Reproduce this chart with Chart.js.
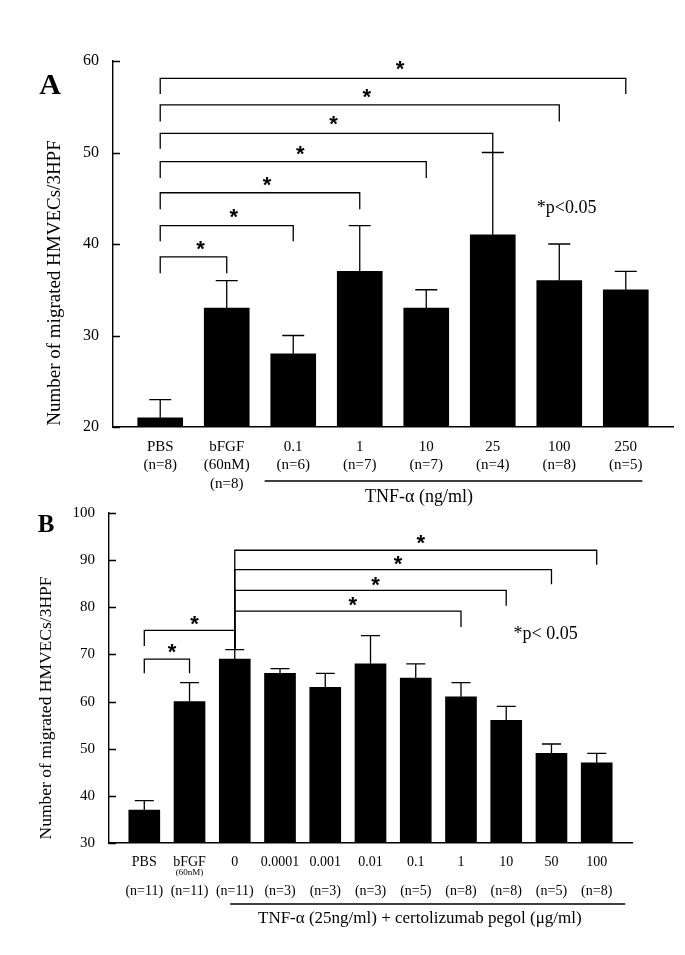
<!DOCTYPE html>
<html>
<head>
<meta charset="utf-8">
<script src="https://cdn.jsdelivr.net/npm/chart.js@4.4.1/dist/chart.umd.min.js"></script>
<style>
    body { margin: 0; background: #fff; }
    #wrap { position: relative; width: 685px; height: 955px; background: #fff; }
    canvas { position: absolute; left: 0; }
    #chartA { top: 0; }
    #chartB { top: 490px; }
</style>
</head>
<body>
<div id="wrap">
    <canvas id="chartA" width="685" height="515"></canvas>
    <canvas id="chartB" width="685" height="465"></canvas>
</div>
<script>
// Panel A: TNF-alpha dose
const catsA = ['PBS', 'bFGF', '0.1', '1', '10', '25', '100', '250'];
const notesA = ['', '(60nM)', '', '', '', '', '', ''];
const nA = [8, 8, 6, 7, 7, 4, 8, 5];
const meanA = [21, 33, 28, 37, 33, 41, 36, 35];
const errTopA = [23, 36, 30, 42, 35, 50, 40, 37];
const ticksA = [20, 30, 40, 50, 60];
// [from, to, bracket level, left leg end, right leg end, star level]
const bracketsA = [
    [0, 1, 38.6, 36.8, 36.8, 40.1],
    [0, 2, 42.0, 40.3, 40.3, 43.6],
    [0, 3, 45.6, 43.8, 43.8, 47.1],
    [0, 4, 49.0, 47.2, 47.2, 50.4],
    [0, 5, 52.1, 50.4, 50.0, 53.7],
    [0, 6, 55.2, 53.4, 53.4, 56.7],
    [0, 7, 58.1, 56.4, 56.4, 59.7]
];

// Panel B: TNF-alpha 25ng/ml + certolizumab pegol
const catsB = ['PBS', 'bFGF', '0', '0.0001', '0.001', '0.01', '0.1', '1', '10', '50', '100'];
const notesB = ['', '(60nM)', '', '', '', '', '', '', '', '', ''];
const nB = [11, 11, 11, 3, 3, 3, 5, 8, 8, 5, 8];
const meanB = [37, 60, 69, 66, 63, 68, 65, 61, 56, 49, 47];
const errTopB = [39, 64, 71, 67, 66, 74, 68, 64, 59, 51, 49];
const ticksB = [30, 40, 50, 60, 70, 80, 90, 100];
const bracketsB = [
    [0, 1, 69.0, 66.0, 66.0, 71.7],
    [0, 2, 75.1, 71.8, 71.2, 77.6],
    [2, 7, 79.2, 71.2, 75.8, 81.6],
    [2, 8, 83.6, 71.2, 80.3, 86.0],
    [2, 9, 88.0, 71.2, 84.9, 90.4],
    [2, 10, 92.1, 71.2, 89.0, 94.8]
];

const SERIF = '"Liberation Serif", "Times New Roman", serif';

function figurePlugin(cfg) {
    return {
        id: 'figure',
        afterDatasetsDraw(chart) {
            const { ctx, chartArea: area, scales: { x, y } } = chart;
            ctx.save();
            ctx.strokeStyle = '#000';
            ctx.fillStyle = '#000';
            ctx.lineWidth = 1.3;

            // inward tick marks on the y axis
            ctx.beginPath();
            y.ticks.forEach(t => {
                const py = Math.round(y.getPixelForValue(t.value)) + 0.5;
                ctx.moveTo(area.left, py);
                ctx.lineTo(area.left + 7, py);
            });
            ctx.stroke();

            // error bars (upper only)
            cfg.errTop.forEach((v, i) => {
                const px = x.getPixelForValue(i);
                const top = y.getPixelForValue(v);
                ctx.beginPath();
                ctx.moveTo(px, y.getPixelForValue(cfg.mean[i]));
                ctx.lineTo(px, top);
                ctx.moveTo(px - cfg.cap / 2, top);
                ctx.lineTo(px + cfg.cap / 2, top);
                ctx.stroke();
            });

            // significance brackets
            ctx.font = 'bold 22px "Liberation Sans", Arial, sans-serif';
            ctx.textAlign = 'center';
            ctx.textBaseline = 'alphabetic';
            cfg.brackets.forEach(([a, b, lvl, la, lb, star]) => {
                const xa = x.getPixelForValue(a);
                const xb = x.getPixelForValue(b);
                const yl = y.getPixelForValue(lvl);
                ctx.beginPath();
                ctx.moveTo(xa, y.getPixelForValue(la));
                ctx.lineTo(xa, yl);
                ctx.lineTo(xb, yl);
                ctx.lineTo(xb, y.getPixelForValue(lb));
                ctx.stroke();
                ctx.fillText('*', (xa + xb) / 2 + cfg.starShift, y.getPixelForValue(star) + 12.5);
            });

            // p-value note
            ctx.font = '18px ' + SERIF;
            ctx.textBaseline = 'middle';
            ctx.fillText(cfg.pText, x.getPixelForValue(cfg.pAt[0]), y.getPixelForValue(cfg.pAt[1]));
            ctx.restore();
        },
        afterDraw(chart) {
            const { ctx, chartArea: area, scales: { x } } = chart;
            ctx.save();
            ctx.fillStyle = '#000';
            ctx.strokeStyle = '#000';
            ctx.textAlign = 'center';
            ctx.textBaseline = 'middle';

            // category labels
            cfg.cats.forEach((c, i) => {
                const px = x.getPixelForValue(i);
                const n = '(n=' + cfg.n[i] + ')';
                ctx.font = cfg.labelSize + 'px ' + SERIF;
                if (cfg.rows.stack) {
                    const lines = [c, cfg.notes[i], n].filter(t => t);
                    lines.forEach((t, k) => ctx.fillText(t, px, area.bottom + cfg.rows.name + k * cfg.rows.step));
                } else {
                    ctx.fillText(c, px, area.bottom + cfg.rows.name);
                    ctx.fillText(n, px, area.bottom + cfg.rows.n);
                    if (cfg.notes[i]) {
                        ctx.font = cfg.rows.noteSize + 'px ' + SERIF;
                        ctx.fillText(cfg.notes[i], px, area.bottom + cfg.rows.note);
                    }
                }
            });

            // treatment group line + caption
            const g = cfg.group;
            ctx.lineWidth = 1.3;
            ctx.beginPath();
            ctx.moveTo(x.getPixelForValue(g.from), area.bottom + g.lineY);
            ctx.lineTo(x.getPixelForValue(g.to), area.bottom + g.lineY);
            ctx.stroke();
            ctx.font = g.size + 'px ' + SERIF;
            ctx.fillText(g.text, x.getPixelForValue(g.at), area.bottom + g.textY);

            // y title
            ctx.save();
            ctx.translate(cfg.yTitle.x, cfg.yTitle.y);
            ctx.rotate(-Math.PI / 2);
            ctx.font = cfg.yTitle.size + 'px ' + SERIF;
            ctx.fillText('Number of migrated HMVECs/3HPF', 0, 0);
            ctx.restore();

            // panel letter
            ctx.font = 'bold ' + cfg.letter.size + 'px ' + SERIF;
            ctx.fillText(cfg.letter.text, cfg.letter.x, cfg.letter.y);
            ctx.restore();
        }
    };
}

function createChart(id, cfg) {
    new Chart(document.getElementById(id), {
        type: 'bar',
        data: {
            datasets: [{
                data: cfg.mean.map((v, i) => ({ x: i, y: v })),
                backgroundColor: '#000',
                borderWidth: 0,
                barThickness: cfg.barWidth
            }]
        },
        options: {
            responsive: false,
            animation: false,
            layout: { padding: cfg.padding },
            plugins: {
                legend: { display: false },
                tooltip: { enabled: false }
            },
            scales: {
                x: {
                    type: 'linear',
                    offset: false,
                    min: cfg.xRange[0],
                    max: cfg.xRange[1],
                    grid: { display: false },
                    ticks: { display: false },
                    border: { color: '#000', width: 1.4 },
                    afterFit: s => { s.height = cfg.xHeight; }
                },
                y: {
                    min: cfg.ticks[0],
                    max: cfg.ticks[cfg.ticks.length - 1],
                    afterBuildTicks: s => { s.ticks = cfg.ticks.map(v => ({ value: v })); },
                    ticks: {
                        color: '#000',
                        padding: 14,
                        font: { family: SERIF, size: cfg.tickSize }
                    },
                    grid: { display: false, drawTicks: false },
                    border: { color: '#000', width: 1.4 },
                    afterFit: s => { s.width = cfg.yWidth; }
                }
            }
        },
        plugins: [figurePlugin(cfg)]
    });
}

createChart('chartA', {
    cats: catsA, notes: notesA, n: nA, mean: meanA, errTop: errTopA, ticks: ticksA, brackets: bracketsA,
    xRange: [-0.71, 7.71], barWidth: 45, cap: 22, starShift: 7,
    padding: { top: 61, right: 12, left: 0, bottom: 0 }, yWidth: 113, xHeight: 88,
    tickSize: 16, labelSize: 15,
    rows: { stack: true, name: 20, step: 18.3 },
    group: { from: 1.57, to: 7.25, lineY: 54, at: 3.89, textY: 70, size: 18, text: 'TNF-\u03b1 (ng/ml)' },
    pText: '*p<0.05', pAt: [6.11, 43.9],
    yTitle: { x: 55, y: 283, size: 19 },
    letter: { text: 'A', x: 50, y: 86, size: 30 }
});

createChart('chartB', {
    cats: catsB, notes: notesB, n: nB, mean: meanB, errTop: errTopB, ticks: ticksB, brackets: bracketsB,
    xRange: [-0.78, 10.78], barWidth: 31, cap: 19, starShift: 5,
    padding: { top: 16, right: 53, left: 0, bottom: 0 }, yWidth: 109, xHeight: 112,
    tickSize: 15, labelSize: 14,
    rows: { stack: false, name: 19, note: 30, n: 48, noteSize: 9 },
    group: { from: 1.9, to: 10.63, lineY: 61, at: 6.09, textY: 76, size: 17, text: 'TNF-\u03b1 (25ng/ml) + certolizumab pegol (\u03bcg/ml)' },
    pText: '*p< 0.05', pAt: [8.87, 74.2],
    yTitle: { x: 46, y: 218, size: 17.5 },
    letter: { text: 'B', x: 46, y: 36, size: 25 }
});
</script>
</body>
</html>
